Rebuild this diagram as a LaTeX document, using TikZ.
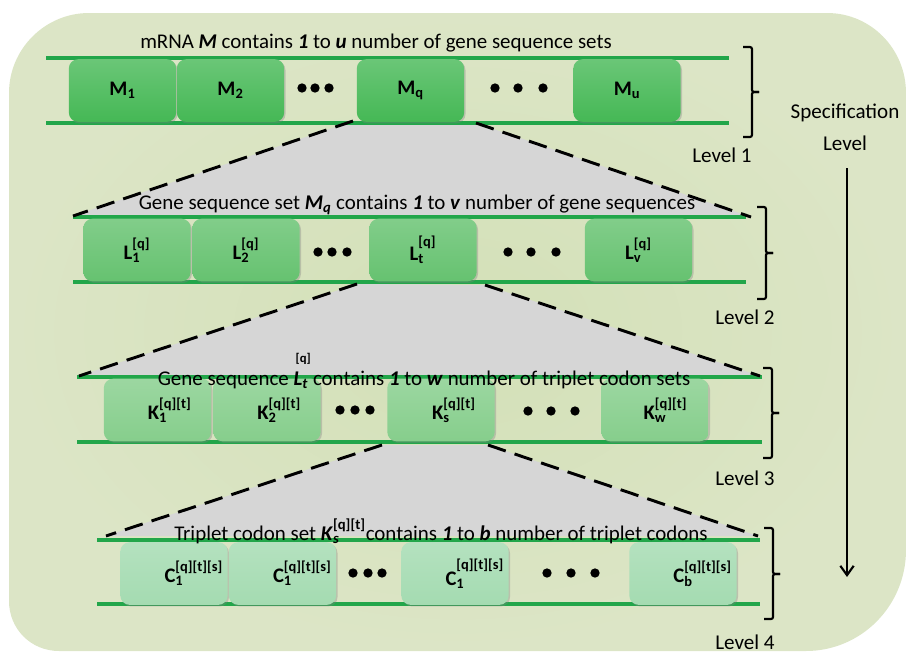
\documentclass[tikz,border=0pt]{standalone}
\usepackage{fontspec}
\setmainfont{Carlito}
\usetikzlibrary{shadows,arrows.meta}
\definecolor{bgc}{HTML}{D3E0B7}
\definecolor{bgo}{HTML}{DCE5C6}
\definecolor{linec}{HTML}{22A64A}
\definecolor{grayc}{HTML}{D6D6D6}
\definecolor{ca}{HTML}{45B855}
\definecolor{cb}{HTML}{66C270}
\definecolor{cc}{HTML}{86CE8C}
\definecolor{cd}{HTML}{A4DBB1}
\newcommand\subsup[3]{#1\rlap{\textsubscript{#2}}\raisebox{0.2em}{\textsuperscript{#3}}}
\newcommand\supsubr[3]{#1\rlap{\raisebox{0.2em}{\textsuperscript{#3}}}\textsubscript{#2}}
\newcommand\bi[1]{\textbf{\textit{#1}}}
\begin{document}
\begin{tikzpicture}[x=0.75pt,y=-0.75pt,
  gbox/.style={rounded corners=7pt, minimum width=80.5pt, minimum height=47pt, inner sep=0pt,
    font=\bfseries\fontsize{15.5}{17}\selectfont,
    drop shadow={shadow xshift=1pt, shadow yshift=-1.2pt, opacity=0.35}},
  boxa/.style={gbox, top color=ca!80!white, bottom color=ca},
  boxb/.style={gbox, top color=cb!82!white, bottom color=cb},
  boxc/.style={gbox, top color=cc!82!white, bottom color=cc},
  boxd/.style={gbox, top color=cd!82!white, bottom color=cd},
  gline/.style={draw=linec, line width=2.4pt},
  dashc/.style={draw=black, line width=2.2pt, dash pattern=on 14pt off 7pt},
  dotn/.style={circle, fill=black, inner sep=0pt, minimum size=7pt},
  brc/.style={draw=black, line width=1.6pt, rounded corners=1.5pt},
  ttl/.style={font=\fontsize{15.7}{17}\selectfont, inner sep=0pt},
  lvl/.style={font=\fontsize{15.8}{17}\selectfont, inner sep=0pt}
]
\useasboundingbox (0,0) rectangle (907,653);
% background
\shade[inner color=bgc, outer color=bgo]
  (9,93) .. controls (9,49) and (45,13) .. (89,13) -- (827,13)
  .. controls (871,13) and (906,49) .. (906,93) -- (906,550)
  .. controls (906,606) and (861,651) .. (806,651) -- (59,651)
  .. controls (31,651) and (9,629) .. (9,601) -- cycle;

% row coordinates
\coordinate (l1a) at (46,58);  \coordinate (l1b) at (729,58);
\coordinate (l1c) at (46,123); \coordinate (l1d) at (729,123);
\coordinate (l2a) at (73,217); \coordinate (l2b) at (746,217);
\coordinate (l2c) at (73,282); \coordinate (l2d) at (746,282);
\coordinate (l3a) at (77,377); \coordinate (l3b) at (762,377);
\coordinate (l3c) at (77,442); \coordinate (l3d) at (762,442);
\coordinate (l4a) at (97,540); \coordinate (l4b) at (760,540);
\coordinate (l4c) at (97,604); \coordinate (l4d) at (760,604);

% zoom trapezoid coordinates
\coordinate (g1a) at (353,121); \coordinate (g1b) at (476,123);
\coordinate (g1c) at (751,217); \coordinate (g1d) at (73,216);
\coordinate (g2a) at (357,284); \coordinate (g2b) at (485,285);
\coordinate (g2c) at (760,376); \coordinate (g2d) at (79,376);
\coordinate (g3a) at (382,445); \coordinate (g3b) at (488,445);
\coordinate (g3c) at (758,536); \coordinate (g3d) at (106,536);

\fill[grayc] (g1a) -- (g1b) -- (g1c) -- (g1d) -- cycle;
\fill[grayc] (g2a) -- (g2b) -- (g2c) -- (g2d) -- cycle;
\fill[grayc] (g3a) -- (g3b) -- (g3c) -- (g3d) -- cycle;

% green lines
\foreach \r in {1,2,3,4}{
  \draw[gline] (l\r a) -- (l\r b);
  \draw[gline] (l\r c) -- (l\r d);
}

% level 1 boxes
\node[boxa] (M1) at (122.5,90.5) {M\textsubscript{1}};
\node[boxa] (M2) at (230.5,90.5) {M\textsubscript{2}};
\node[boxa] (Mq) at (410.5,90.5) {M\textsubscript{q}};
\node[boxa] (Mu) at (627,90.5) {M\textsubscript{u}};
% level 2 boxes
\node[boxb] (L1) at (137,250) {\subsup{L}{1}{[q]}};
\node[boxb] (L2) at (246,250) {\subsup{L}{2}{[q]}};
\node[boxb] (Lt) at (423,250) {L\rlap{\textsubscript{t}}\raisebox{0.35em}{\textsuperscript{[q]}}};
\node[boxb] (Lv) at (638.5,250) {\subsup{L}{v}{[q]}};
% level 3 boxes
\node[boxc] (K1) at (157.5,410) {\supsubr{K}{1}{[q][t]}};
\node[boxc] (K2) at (267,410) {\supsubr{K}{2}{[q][t]}};
\node[boxc] (Ks) at (441,410) {\supsubr{K}{s}{[q][t]}};
\node[boxc] (Kw) at (655,410) {\supsubr{K}{w}{[q][t]}};
% level 4 boxes
\node[boxd] (C1) at (174,573.5) {\supsubr{C}{1}{[q][t][s]}};
\node[boxd] (C2) at (282.5,573.5) {\supsubr{C}{1}{[q][t][s]}};
\node[boxd] (C3) at (455,573.5) {C\rlap{\raisebox{0.45em}{\textsuperscript{[q][t][s]}}}\textsubscript{1}};
\node[boxd] (Cb) at (683,573.5) {\supsubr{C}{b}{[q][t][s]}};

% dots
\node[dotn] (d1a) at (302,88) {}; \node[dotn] (d1b) at (315,88) {}; \node[dotn] (d1c) at (329,88) {};
\node[dotn] (d1d) at (495,88) {}; \node[dotn] (d1e) at (518,88) {}; \node[dotn] (d1f) at (543,88) {};
\node[dotn] (d2a) at (318,252) {}; \node[dotn] (d2b) at (332,252) {}; \node[dotn] (d2c) at (347,252) {};
\node[dotn] (d2d) at (508,252) {}; \node[dotn] (d2e) at (531,252) {}; \node[dotn] (d2f) at (556,252) {};
\node[dotn] (d3a) at (340,410) {}; \node[dotn] (d3b) at (355,410) {}; \node[dotn] (d3c) at (370,410) {};
\node[dotn] (d3d) at (528,411) {}; \node[dotn] (d3e) at (551,411) {}; \node[dotn] (d3f) at (575,411) {};
\node[dotn] (d4a) at (353,573) {}; \node[dotn] (d4b) at (368,573) {}; \node[dotn] (d4c) at (382,573) {};
\node[dotn] (d4d) at (547,573) {}; \node[dotn] (d4e) at (571,573) {}; \node[dotn] (d4f) at (595,573) {};

% dashed zoom lines
\draw[dashc] (g1a) -- (g1d);
\draw[dashc] (g1b) -- (g1c);
\draw[dashc] (g2a) -- (g2d);
\draw[dashc] (g2b) -- (g2c);
\draw[dashc] (g3a) -- (g3d);
\draw[dashc] (g3b) -- (g3c);

% titles
\node[ttl] (t1) at (376,43) {mRNA \bi{M} contains \bi{1} to \bi{u} number of gene sequence sets};
\node[ttl] (t2) at (417,205) {Gene sequence set \bi{M}\textsubscript{\bi{q}} contains \bi{1} to \bi{v} number of gene sequences};
\node[ttl] (t3) at (424,371) {Gene sequence \makebox[0pt][l]{\hspace{0.1em}\raisebox{1.1em}{\bfseries\fontsize{9.5}{10}\selectfont [q]}}\bi{L}\textsubscript{\bi{t}} contains \bi{1} to \bi{w} number of triplet codon sets};
\node[ttl] (t4) at (441,531) {Triplet codon set \bi{K}\rlap{\textsubscript{\bi{s}}}\raisebox{0.2em}{\textsuperscript{\bfseries [q][t]}}contains \bi{1} to \bi{b} number of triplet codons};

% braces
\coordinate (b1t) at (743,47); \coordinate (b1b) at (743,137); \coordinate (b1m) at (759,92);
\coordinate (b2t) at (757,207); \coordinate (b2b) at (757,299); \coordinate (b2m) at (773,253);
\coordinate (b3t) at (763,368); \coordinate (b3b) at (763,458); \coordinate (b3m) at (779,413);
\coordinate (b4t) at (764,528); \coordinate (b4b) at (764,619); \coordinate (b4m) at (780,574);
\foreach \r in {1,2,3,4}{
  \draw[brc] (b\r t) -- ++(9,0) |- (b\r m);
  \draw[brc] (b\r b) -- ++(9,0) |- (b\r m);
}

% level labels
\node[lvl] (lv1) at (722,155) {Level 1};
\node[lvl] (lv2) at (745,317) {Level 2};
\node[lvl] (lv3) at (745,478) {Level 3};
\node[lvl] (lv4) at (745,642) {Level 4};

% specification level arrow
\node[lvl] (spec) at (845,113) {Specification};
\node[lvl] (speclv) at (845,143) {Level};
\coordinate (ar1) at (847,168);
\coordinate (ar2) at (847,577);
\draw[line width=1.6pt, -{Straight Barb[length=7pt,width=10pt]}] (ar1) -- (ar2);
\end{tikzpicture}
\end{document}
